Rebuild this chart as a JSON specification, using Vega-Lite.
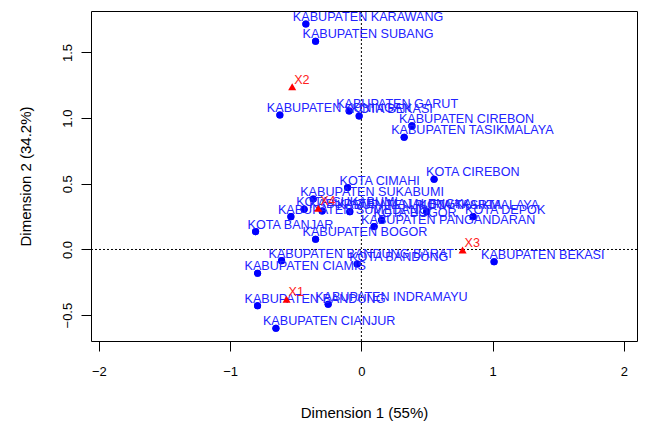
{
  "$schema": "https://vega.github.io/schema/vega-lite/v6.json",
  "width": 546,
  "height": 330,
  "autosize": "none",
  "padding": {"left": 91, "top": 11, "right": 12, "bottom": 82},
  "background": "white",
  "config": {
    "font": "Liberation Sans",
    "view": {"stroke": "black", "strokeWidth": 1},
    "axis": {
      "grid": false, "domain": false, "tickColor": "black", "tickSize": 10,
      "labelColor": "black", "labelFontSize": 13, "titleColor": "black",
      "titleFontSize": 15, "titleFontWeight": "normal", "labelFont": "Liberation Sans", "titleFont": "Liberation Sans"
    }
  },
  "datasets": {
    "rows": [
      {"name": "KABUPATEN KARAWANG", "d1": -0.423, "d2": 1.717},
      {"name": "KABUPATEN SUBANG", "d1": -0.349, "d2": 1.586},
      {"name": "KABUPATEN GARUT", "d1": -0.093, "d2": 1.055},
      {"name": "KOTA BEKASI", "d1": -0.017, "d2": 1.017},
      {"name": "KABUPATEN KUNINGAN", "d1": -0.621, "d2": 1.024},
      {"name": "KABUPATEN CIREBON", "d1": 0.385, "d2": 0.941},
      {"name": "KABUPATEN TASIKMALAYA", "d1": 0.326, "d2": 0.855},
      {"name": "KOTA CIREBON", "d1": 0.554, "d2": 0.535},
      {"name": "KOTA CIMAHI", "d1": -0.105, "d2": 0.471},
      {"name": "KABUPATEN SUKABUMI", "d1": -0.367, "d2": 0.385},
      {"name": "KOTA SUKABUMI", "d1": -0.436, "d2": 0.306},
      {"name": "KABUPATEN MAJALENGKA", "d1": -0.299, "d2": 0.293},
      {"name": "KABUPATEN SUMEDANG", "d1": -0.537, "d2": 0.25},
      {"name": "KABUPATEN PURWAKARTA", "d1": -0.088, "d2": 0.288},
      {"name": "KOTA BOGOR", "d1": 0.154, "d2": 0.225},
      {"name": "KABUPATEN PANGANDARAN", "d1": 0.097, "d2": 0.174},
      {"name": "KOTA TASIKMALAYA", "d1": 0.497, "d2": 0.288},
      {"name": "KOTA DEPOK", "d1": 0.851, "d2": 0.25},
      {"name": "KOTA BANJAR", "d1": -0.806, "d2": 0.136},
      {"name": "KABUPATEN BOGOR", "d1": -0.349, "d2": 0.078},
      {"name": "KABUPATEN BEKASI", "d1": 1.011, "d2": -0.093},
      {"name": "KABUPATEN BANDUNG BARAT", "d1": -0.608, "d2": -0.085},
      {"name": "KOTA BANDUNG", "d1": -0.032, "d2": -0.11},
      {"name": "KABUPATEN CIAMIS", "d1": -0.791, "d2": -0.181},
      {"name": "KABUPATEN BANDUNG", "d1": -0.791, "d2": -0.428},
      {"name": "KABUPATEN INDRAMAYU", "d1": -0.253, "d2": -0.417},
      {"name": "KABUPATEN CIANJUR", "d1": -0.651, "d2": -0.6}
    ],
    "cols": [
      {"name": "X1", "d1": -0.57, "d2": -0.379},
      {"name": "X2", "d1": -0.527, "d2": 1.24},
      {"name": "X3", "d1": 0.771, "d2": -0.004},
      {"name": "X4", "d1": -0.329, "d2": 0.314}
    ],
    "zero": [{"v": 0}]
  },
  "layer": [
    {
      "data": {"name": "rows"},
      "mark": {"type": "point", "shape": "circle", "filled": true, "color": "#0000FF", "opacity": 1, "size": 50},
      "encoding": {
        "x": {
          "field": "d1", "type": "quantitative",
          "scale": {"domain": [-2.06, 2.1], "nice": false, "zero": false},
          "axis": {"title": "Dimension 1 (55%)", "values": [-2, -1, 0, 1, 2], "format": "d", "labelPadding": 14, "titleY": 71, "titleBaseline": "middle"}
        },
        "y": {
          "field": "d2", "type": "quantitative",
          "scale": {"domain": [-0.697, 1.816], "nice": false, "zero": false},
          "axis": {"title": "Dimension 2 (34.2%)", "values": [-0.5, 0, 0.5, 1, 1.5], "format": ".1f", "labelAngle": -90, "labelAlign": "center", "labelBaseline": "bottom", "labelPadding": 7, "titleX": -66, "titleBaseline": "middle"}
        }
      }
    },
    {
      "data": {"name": "zero"},
      "mark": {"type": "rule", "color": "black", "strokeDash": [2, 2], "strokeWidth": 1},
      "encoding": {"x": {"field": "v", "type": "quantitative"}}
    },
    {
      "data": {"name": "zero"},
      "mark": {"type": "rule", "color": "black", "strokeDash": [2, 2], "strokeWidth": 1},
      "encoding": {"y": {"field": "v", "type": "quantitative"}}
    },
    {
      "data": {"name": "rows"},
      "mark": {"type": "point", "shape": "circle", "filled": true, "color": "#0000FF", "opacity": 1, "size": 50},
      "encoding": {"x": {"field": "d1", "type": "quantitative"}, "y": {"field": "d2", "type": "quantitative"}}
    },
    {
      "data": {"name": "rows"},
      "transform": [{"filter": "indexof(datum.name, 'KOTA') === 0"}],
      "mark": {"type": "text", "color": "#2222ff", "fontSize": 12.6, "align": "left", "baseline": "middle", "dx": -8, "dy": -7},
      "encoding": {"x": {"field": "d1", "type": "quantitative"}, "y": {"field": "d2", "type": "quantitative"}, "text": {"field": "name"}}
    },
    {
      "data": {"name": "rows"},
      "transform": [{"filter": "indexof(datum.name, 'KOTA') !== 0"}],
      "mark": {"type": "text", "color": "#2222ff", "fontSize": 12.6, "align": "left", "baseline": "middle", "dx": -13, "dy": -7},
      "encoding": {"x": {"field": "d1", "type": "quantitative"}, "y": {"field": "d2", "type": "quantitative"}, "text": {"field": "name"}}
    },
    {
      "data": {"name": "cols"},
      "mark": {"type": "point", "shape": "triangle-up", "filled": true, "color": "#FF0000", "opacity": 1, "size": 65},
      "encoding": {"x": {"field": "d1", "type": "quantitative"}, "y": {"field": "d2", "type": "quantitative"}}
    },
    {
      "data": {"name": "cols"},
      "mark": {"type": "text", "color": "#FF2020", "fontSize": 12.6, "align": "left", "baseline": "middle", "dx": 2, "dy": -7},
      "encoding": {"x": {"field": "d1", "type": "quantitative"}, "y": {"field": "d2", "type": "quantitative"}, "text": {"field": "name"}}
    }
  ]
}
